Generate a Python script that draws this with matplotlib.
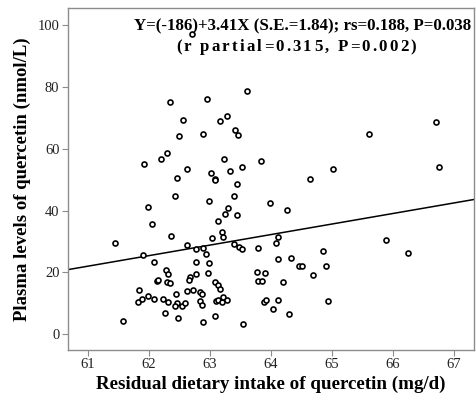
import numpy as np
import matplotlib.pyplot as plt
from matplotlib.font_manager import FontProperties

plt.rcParams['font.family'] = ['Liberation Serif', 'DejaVu Serif']

# residual dietary intake (mg/d) and plasma quercetin (nmol/L)
intake = [63.60, 62.35, 62.95, 62.56, 63.16, 63.28, 62.50, 62.89, 63.41, 63.46,
          62.30, 62.20, 61.92, 63.23, 63.83, 62.63, 62.46, 63.02, 63.08, 63.08,
          63.33, 63.52, 63.44, 62.42, 62.99, 63.39, 63.99, 61.98, 63.29, 64.26,
          63.25, 63.14, 63.45, 62.05, 61.44, 62.36, 61.91, 62.63, 62.77, 62.89,
          62.93, 63.03, 63.20, 63.22, 63.39, 63.47, 63.52, 63.78, 64.11, 64.09,
          64.11, 64.33, 64.46, 64.51, 64.86, 64.91, 64.69, 62.08, 62.78, 62.98,
          62.28, 62.31, 62.78, 62.97, 62.68, 62.65, 62.14, 62.15, 62.29, 62.34,
          63.08, 63.13, 63.16, 63.77, 63.90, 63.79, 63.85, 64.20, 61.83, 61.82,
          61.89, 61.99, 62.08, 62.23, 62.32, 62.44, 62.46, 62.42, 62.54, 62.59,
          62.63, 62.72, 62.84, 62.87, 62.83, 62.87, 63.10, 63.14, 63.19, 63.22,
          63.28, 62.27, 62.48, 61.57, 62.88, 63.08, 63.54, 63.88, 63.92, 64.12,
          64.04, 64.30, 64.93, 66.70, 65.61, 65.02, 64.64, 66.75, 65.88, 66.24,
          62.70]
plasma = [78.8, 75.0, 76.1, 69.3, 69.1, 70.6, 64.0, 64.9, 66.1, 64.4,
          58.7, 56.7, 55.0, 56.6, 56.1, 53.5, 50.4, 52.1, 50.3, 49.9,
          52.8, 54.1, 48.5, 44.6, 43.0, 44.7, 42.4, 41.1, 40.9, 40.2,
          39.0, 36.7, 38.5, 35.6, 29.5, 31.7, 25.7, 28.9, 27.5, 28.0,
          26.1, 31.0, 33.0, 31.4, 29.2, 28.3, 27.5, 27.8, 31.4, 29.5,
          24.3, 24.8, 22.0, 22.0, 26.9, 22.0, 19.2, 23.3, 23.3, 23.1,
          20.7, 19.5, 19.6, 19.9, 18.5, 17.7, 17.1, 17.4, 16.9, 16.6,
          16.9, 15.9, 14.7, 20.0, 19.8, 17.2, 17.2, 16.8, 14.3, 10.5,
          11.4, 12.5, 11.5, 11.3, 10.3, 13.1, 10.2, 9.2, 9.1, 10.2,
          14.0, 14.2, 13.6, 12.9, 10.9, 9.6, 10.9, 11.1, 10.4, 12.0,
          11.2, 7.0, 5.3, 4.2, 3.8, 6.0, 3.2, 10.5, 11.2, 11.2,
          8.3, 6.6, 10.8, 68.5, 64.9, 53.3, 50.2, 54.1, 30.5, 26.2,
          97.1]

intercept = -186
slope = 3.41
xticks = [61, 62, 63, 64, 65, 66, 67]
yticks = [0, 20, 40, 60, 80, 100]
line1 = 'Y=(-186)+3.41X (S.E.=1.84); rs=0.188, P=0.038'
line2 = '(r partial=0.315, P=0.002)'

fig = plt.figure(figsize=(4.77, 4.0), dpi=100)
ax = fig.add_axes([0.142, 0.125, 0.852, 0.854])

ax.scatter(intake, plasma, s=13, facecolors='white', edgecolors='black',
           linewidths=1.2, zorder=3)

xlim = (60.67, 67.33)
xs = np.array(xlim)
ax.plot(xs, intercept + slope * xs, color='black', lw=1.1, zorder=2)

ax.set_xlim(*xlim)
ax.set_ylim(-5.1, 105.4)
ax.set_xticks(xticks)
ax.set_yticks(yticks)

for sp in ax.spines.values():
    sp.set_color('#8c8c8c')
    sp.set_linewidth(1.0)
ax.tick_params(direction='out', length=4, width=0.8, color='#8c8c8c',
               labelsize=10.5, labelcolor='#222222', pad=2)

ax.set_xlabel('Residual dietary intake of quercetin (mg/d)', fontsize=13.7,
              fontweight='bold', labelpad=3)
ax.set_ylabel('Plasma levels of quercetin (nmol/L)', fontsize=13.5,
              fontweight='bold', labelpad=5)

ax.text(0.579, 0.948, line1, transform=ax.transAxes, ha='center', va='center',
        fontsize=12.2, fontweight='bold', zorder=4)

# the second line is set wider than the first in the original (letter-spaced)
prop = FontProperties(family=['Liberation Serif'], weight='bold', size=12.2)
renderer = fig.canvas.get_renderer()
def w(s):
    return renderer.get_text_width_height_descent(s, prop, ismath=False)[0]
track = 2.2
total = w(line2) + track * (len(line2) - 1)
for i, ch in enumerate(line2):
    if ch == ' ':
        continue
    off = -total / 2 + w(line2[:i]) + track * i
    ax.annotate(ch, xy=(0.562, 0.886), xycoords='axes fraction',
                xytext=(off, 0), textcoords='offset pixels',
                ha='left', va='center', fontproperties=prop, zorder=4)

fig.savefig('out.png', dpi=100)
